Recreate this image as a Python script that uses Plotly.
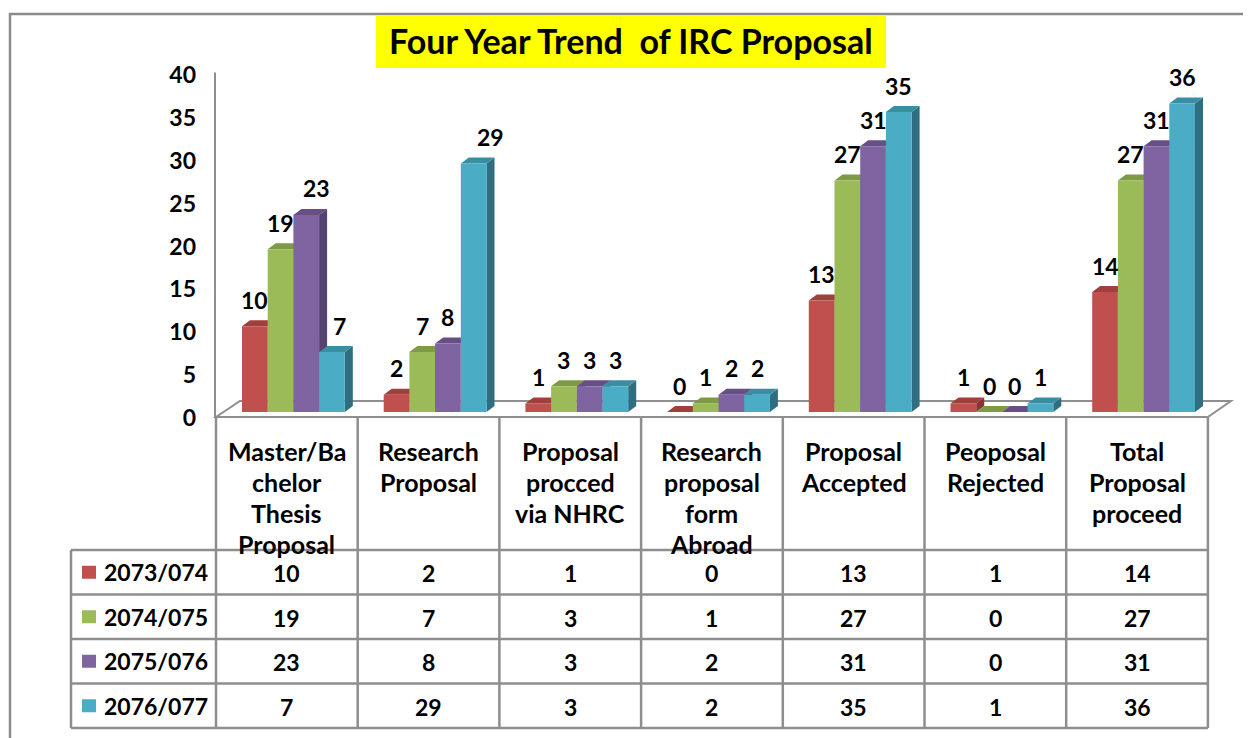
import plotly.graph_objects as go

# ---------------- data ----------------
categories = [
    "Master/Ba<br>chelor<br>Thesis<br>Proposal",
    "Research<br>Proposal",
    "Proposal<br>procced<br>via NHRC",
    "Research<br>proposal<br>form<br>Abroad",
    "Proposal<br>Accepted",
    "Peoposal<br>Rejected",
    "Total<br>Proposal<br>proceed",
]
series_names = ["2073/074", "2074/075", "2075/076", "2076/077"]
v2073 = [10, 2, 1, 0, 13, 1, 14]
v2074 = [19, 7, 3, 1, 27, 0, 27]
v2075 = [23, 8, 3, 2, 31, 0, 31]
v2076 = [7, 29, 3, 2, 35, 1, 36]
series_values = [v2073, v2074, v2075, v2076]
y_ticks = [0, 5, 10, 15, 20, 25, 30, 35, 40]
title_text = "Four Year Trend  of IRC Proposal"

# ---------------- style ----------------
front_col = ["#C0504D", "#9BBB59", "#8064A2", "#4BACC6"]
top_col = ["#A03F3C", "#7E9A45", "#674F86", "#3B8DA3"]
side_col = ["#8A3533", "#6B8338", "#56426F", "#2F6E80"]
FONT = "Lato, 'Open Sans', sans-serif"
GRID = "#8E8E8E"

OFF = 8                          # browser page margin
W, H = 1251, 738 - OFF
X0, CW = 216.0 - OFF, 141.7      # px of category 0 left edge, px per category
Y0, PPU = 412.0 - OFF, 8.57      # px of value 0, px per unit
BAR_OFF, BAR_W = 26.0 / CW, 25.7 / CW
DX, DY = 8.0 / CW, 6.0 / PPU     # 3-D depth offsets
LABEL_NUDGE = {(0, 2): 10, (0, 3): 8, (1, 3): 17}   # px, label placement tweaks

xr = [-X0 / CW, (W - X0) / CW]
yr = [(Y0 - H) / PPU, Y0 / PPU]
# tick-label axis (back wall scale)
TY0, TPPU = 418.0 - OFF, 8.575
yr3 = [(TY0 - H) / TPPU, TY0 / TPPU]


def py(p):
    return 1 - (p - OFF) / H


def pxp(p):
    return (p - OFF) / W


ncat = len(categories)
fig = go.Figure()

# side and top faces (scatter polygons on main axes)
for s, vals in enumerate(series_values):
    sx, sy, tx, ty = [], [], [], []
    for i, v in enumerate(vals):
        xl = i + BAR_OFF + s * BAR_W
        xrr = xl + BAR_W
        sx += [xrr, xrr + DX, xrr + DX, xrr, xrr, None]
        sy += [0, DY, v + DY, v, 0, None]
        tx += [xl, xl + DX, xrr + DX, xrr, xl, None]
        ty += [v, v + DY, v + DY, v, v, None]
    fig.add_trace(go.Scatter(x=sx, y=sy, fill="toself", fillcolor=side_col[s],
                             mode="lines", line=dict(width=0), hoverinfo="skip",
                             showlegend=False))
    fig.add_trace(go.Scatter(x=tx, y=ty, fill="toself", fillcolor=top_col[s],
                             mode="lines", line=dict(width=0), hoverinfo="skip",
                             showlegend=False))

# front faces (bars on overlay axes so they sit above side/top faces)
for s, vals in enumerate(series_values):
    xs = [i + BAR_OFF + s * BAR_W + BAR_W / 2 for i in range(ncat)]
    fig.add_trace(go.Bar(x=xs, y=vals, width=BAR_W, marker=dict(color=front_col[s], line=dict(width=0)),
                         xaxis="x2", yaxis="y2", name=series_names[s], showlegend=False))

# dummy trace for tick-label axis
fig.add_trace(go.Scatter(x=[None], y=[None], xaxis="x", yaxis="y3", showlegend=False))

shapes = []
annotations = []

# frame
shapes.append(dict(type="path", xref="paper", yref="paper",
                   path=f"M {pxp(10)} {py(740)} L {pxp(10)} {py(14)} L {pxp(1260)} {py(14)}",
                   line=dict(color="#8A8A8A", width=2.5), layer="below"))

# floor
vf = (Y0 - (417 - OFF)) / PPU
vb = (Y0 - (401 - OFF)) / PPU
bl = 24.0 / CW
br = ncat + 23.0 / CW
shapes.append(dict(type="path", xref="x", yref="y",
                   path=f"M 0 {vf} L {bl} {vb} L {br} {vb} L {ncat} {vf} Z",
                   fillcolor="white", line=dict(color=GRID, width=2), layer="below"))
# left wall edge
shapes.append(dict(type="line", xref="x", yref="y3", x0=-1 / CW, x1=-1 / CW, y0=40.3,
                   y1=(TY0 - (417 - OFF)) / TPPU, line=dict(color=GRID, width=2), layer="below"))

# table
row_lines = [550, 594.5, 639, 683.5, 728]
LX = 71
for yy in row_lines:
    shapes.append(dict(type="line", xref="paper", yref="paper", x0=pxp(LX), x1=pxp(X0 + OFF + CW * ncat),
                       y0=py(yy), y1=py(yy), line=dict(color=GRID, width=2.5)))
for k in range(ncat + 1):
    shapes.append(dict(type="line", xref="x", yref="paper", x0=k, x1=k, y0=py(417), y1=py(728),
                       line=dict(color=GRID, width=2.5)))
shapes.append(dict(type="line", xref="paper", yref="paper", x0=pxp(LX), x1=pxp(LX), y0=py(550), y1=py(728),
                   line=dict(color=GRID, width=2.5)))

TXT = dict(family=FONT, size=23, color="black")
HDR = dict(family=FONT, size=25, color="black")

# header lines
for i, cat in enumerate(categories):
    for j, line in enumerate(cat.split("<br>")):
        annotations.append(dict(xref="x", yref="paper", x=i + 0.5, y=py(451 + 31 * j),
                                text=f"<b>{line}</b>", showarrow=False, font=HDR,
                                xanchor="center", yanchor="middle"))

# data rows
for s, vals in enumerate(series_values):
    yc = (row_lines[s] + row_lines[s + 1]) / 2
    shapes.append(dict(type="rect", xref="paper", yref="paper", x0=pxp(82), x1=pxp(96),
                       y0=py(yc - 6.5), y1=py(yc + 6.5), fillcolor=front_col[s], line=dict(width=0)))
    annotations.append(dict(xref="paper", yref="paper", x=pxp(102), y=py(yc), text=f"<b>{series_names[s]}</b>",
                            showarrow=False, font=TXT, xanchor="left", yanchor="middle"))
    for i, v in enumerate(vals):
        annotations.append(dict(xref="x", yref="paper", x=i + 0.5, y=py(yc + 1), text=f"<b>{v}</b>",
                                showarrow=False, font=TXT, xanchor="center", yanchor="middle"))

# data labels above bars
for s, vals in enumerate(series_values):
    for i, v in enumerate(vals):
        xc = i + BAR_OFF + s * BAR_W + BAR_W / 2 + LABEL_NUDGE.get((i, s), 0) / CW
        annotations.append(dict(xref="x", yref="y", x=xc, y=v + 26.5 / PPU, text=f"<b>{v}</b>",
                                showarrow=False, font=TXT, xanchor="center", yanchor="middle"))

# title
shapes.append(dict(type="rect", xref="paper", yref="paper", x0=pxp(376), x1=pxp(886), y0=py(68), y1=py(15),
                   fillcolor="#FFFF00", line=dict(width=0)))
annotations.append(dict(xref="paper", yref="paper", x=pxp(631), y=py(41), text=f"<b>{title_text}</b>",
                        showarrow=False, font=dict(family=FONT, size=34, color="black"),
                        xanchor="center", yanchor="middle"))

fig.update_layout(
    width=W, height=H, margin=dict(l=0, r=0, t=0, b=0),
    paper_bgcolor="white", plot_bgcolor="rgba(0,0,0,0)",
    barmode="overlay", showlegend=False,
    xaxis=dict(range=xr, domain=[0, 1], visible=False, fixedrange=True),
    yaxis=dict(range=yr, domain=[0, 1], visible=False, fixedrange=True),
    xaxis2=dict(range=xr, overlaying="x", visible=False, fixedrange=True),
    yaxis2=dict(range=yr, overlaying="y", anchor="x2", visible=False, fixedrange=True),
    yaxis3=dict(range=yr3, overlaying="y", anchor="free", position=pxp(196), side="left",
                tickvals=y_ticks, ticktext=[f"<b>{t}</b>" for t in y_ticks],
                tickfont=dict(family=FONT, size=23, color="black"),
                showgrid=False, zeroline=False, showline=False, ticks="", fixedrange=True),
    shapes=shapes, annotations=annotations,
)

fig.write_html("out.html")
